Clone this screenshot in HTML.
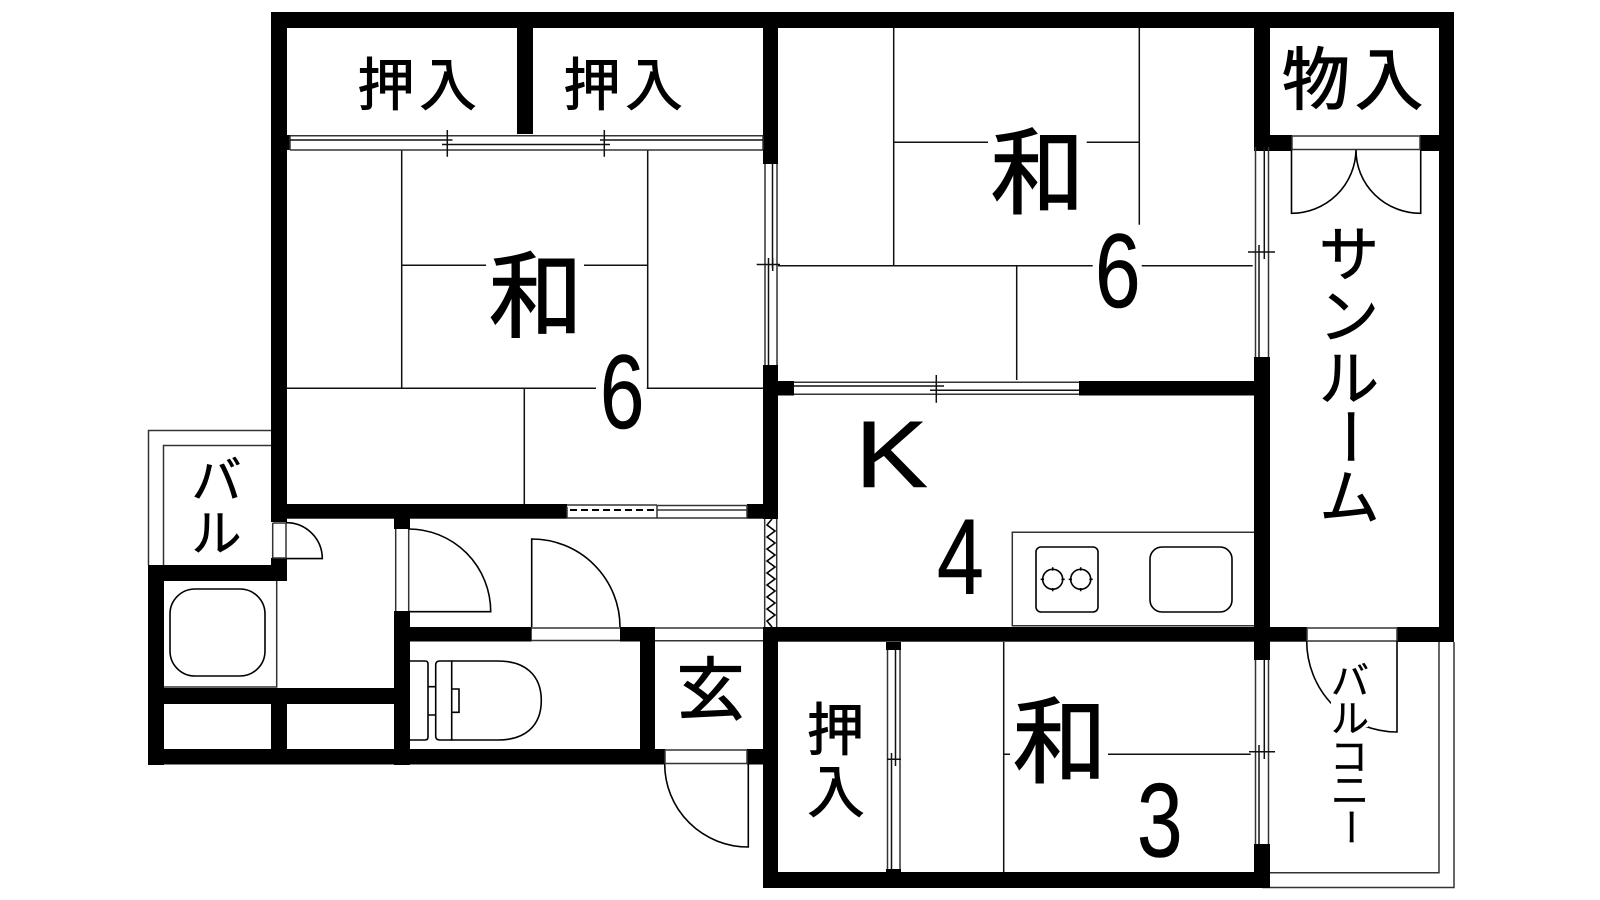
<!DOCTYPE html>
<html lang="ja"><head><meta charset="utf-8"><title>間取り図</title>
<style>
html,body{margin:0;padding:0;background:#fff;width:1600px;height:900px;overflow:hidden}
svg{display:block}
.j{font-family:"Liberation Sans","Noto Sans CJK JP",sans-serif;fill:#000;stroke:#000;text-anchor:middle}
.d{font-family:"Liberation Sans",sans-serif;fill:#000}
.l{fill:none;stroke:#111;stroke-width:1.5}
.g{fill:none;stroke:#333;stroke-width:1.5}
.a{fill:none;stroke:#000;stroke-width:1.6}
</style></head><body>
<svg width="1600" height="900" viewBox="0 0 1600 900" xmlns="http://www.w3.org/2000/svg">
<rect width="1600" height="900" fill="#fff"/>

<!-- tatami room 1 -->
<path class="l" d="M401.7 150V388.3M647.7 150V388.3M401.7 265.3H486M584 265.3H647.7M287 388.3H596M646.7 388.3H763M524.3 388.3V504"/>
<!-- tatami room 2 -->
<path class="l" d="M893.7 28V265.7M1139.3 28V224.7M893.7 142.3H988M1086.7 142.3H1139.3M778 265.7H1092.7M1141.7 265.7H1252.7M1016.7 265.7V380"/>
<!-- tatami room 3 -->
<path class="l" d="M1003.7 642V872M1003.7 754.3H1010M1108 754.3H1250.7"/>

<!-- balconies -->
<path class="g" d="M148.5 565V430.5H271M163.5 565V445.5H271"/>
<path class="g" d="M1454 642V887.5H1262M1439 642V872.7H1270"/>

<!-- walls -->
<g fill="#000">
<rect x="271" y="12" width="1183" height="16"/>
<rect x="271" y="12" width="16" height="123"/>
<rect x="271" y="150" width="16" height="372"/>
<rect x="271" y="135" width="19" height="15"/>
<rect x="517" y="28" width="16" height="106"/>
<rect x="763" y="12" width="15" height="152"/>
<rect x="763" y="365" width="15" height="154"/>
<rect x="763" y="627" width="15" height="261"/>
<rect x="1254" y="12" width="16" height="135"/>
<rect x="1254" y="135" width="38" height="16"/>
<rect x="1420" y="135" width="34" height="16"/>
<rect x="1439" y="12" width="15" height="139"/>
<rect x="1439" y="151" width="15" height="491"/>
<rect x="1254" y="357" width="16" height="303"/>
<rect x="1254" y="844" width="16" height="44"/>
<rect x="778" y="381" width="16" height="14.5"/>
<rect x="1079" y="381" width="176" height="14.5"/>
<rect x="287" y="504" width="280" height="14.7"/>
<rect x="747" y="504" width="16" height="14.7"/>
<rect x="763" y="627" width="544" height="14.7"/>
<rect x="1397" y="627" width="57" height="15"/>
<rect x="778" y="872" width="484" height="16"/>
<rect x="886" y="642" width="15" height="8"/>
<rect x="886" y="869" width="15" height="4"/>
<rect x="148" y="565" width="139" height="16"/>
<rect x="271" y="558" width="16" height="10"/>
<rect x="148" y="565" width="16" height="200"/>
<rect x="164" y="688" width="246" height="16"/>
<rect x="271" y="704" width="16" height="50"/>
<rect x="148" y="749" width="517" height="15.5"/>
<rect x="747" y="749" width="20" height="15.5"/>
<rect x="394" y="518" width="16" height="11"/>
<rect x="394" y="611" width="16" height="154"/>
<rect x="410" y="627" width="121.7" height="14.5"/>
<rect x="620" y="627" width="35" height="14.5"/>
<rect x="640" y="627" width="15" height="130"/>
</g>

<!-- top sliding window -->
<path class="g" d="M290 135.7H763M290 150H763M763 135.7V150M290 135.7V150"/>
<path class="l" d="M290 140H452M600 140H763M442 144.5H610M447.3 130V156.7M604.3 130V156.7M441.5 140H452.5M598 144.5H610"/>
<!-- window right of room 1 -->
<path class="g" d="M765 164V365M777 164V365"/>
<path class="l" d="M772.5 164V268M768.5 258V365M756.7 264.5H780M768.5 258V264.5M772.7 258V271"/>
<!-- window kitchen top -->
<path class="g" d="M794 382.3H1079M794 394.3H1079"/>
<path class="l" d="M794 386H944M930 390.3H1079M936.3 375V402.7M930 390.3H944M936 386H944"/>
<!-- right window upper -->
<path class="g" d="M1255.5 147V357M1268.5 147V357"/>
<path class="l" d="M1264.3 147V259M1259 245V357M1248 252H1275"/>
<!-- right window lower -->
<path class="g" d="M1255.5 660V844M1268.5 660V844"/>
<path class="l" d="M1264.3 660V759M1259 745V844M1249 751.7H1275"/>
<!-- closet window room 3 -->
<path class="g" d="M887.5 650V869M900 650V869"/>
<path class="l" d="M895.5 650V766M891.5 753V869M887 759.3H901"/>
<!-- dashed + sliding window -->
<path class="g" d="M567 505H657M567 518H657M567 506.7V518M657 505V518"/>
<path d="M570 510H657" stroke="#000" stroke-width="2" stroke-dasharray="7 4" fill="none"/>
<path class="g" d="M657 505.5H747M657 510H747M657 518H747M747 505V518"/>
<!-- accordion -->
<path class="g" d="M764.7 519V627M776.7 519V627"/>
<path d="M772 519L767 525L775 531L767 537L775 543L767 549L775 555L767 561L775 567L767 573L775 579L767 585L775 591L767 597L775 603L767 609L775 615L767 621L772 627" fill="none" stroke="#000" stroke-width="1.6"/>

<!-- storage double door -->
<path class="g" d="M1292 136H1420M1292 149.5H1420M1292 136V150M1420 136V150"/>
<path class="a" d="M1291.5 150V213.3A64.5 64.5 0 0 0 1356 150A64.5 63 0 0 0 1420.7 213.3V150"/>
<!-- balcony door -->
<path class="g" d="M1307 628H1397M1307 641H1397M1307 628V641M1397 628V641"/>
<path class="a" d="M1306.7 641A90.3 91 0 0 0 1397 732V641"/>
<rect x="1331" y="702" width="37" height="25" fill="#fff"/>
<!-- small door -->
<path class="g" d="M272.7 523H286M272.7 558H286M272.7 523V558M286 523V558"/>
<path class="a" d="M286 522.7A36 36 0 0 1 322.3 558.6H286"/>
<!-- door 1 -->
<path class="g" d="M395.7 529V611M408.7 529V611"/>
<path class="a" d="M408.7 529A82 82.7 0 0 1 490.7 611.7H408.7"/>
<!-- door 2 -->
<path class="g" d="M531.7 628H620M531.7 640.5H620"/>
<path class="a" d="M531.7 627V539A88.3 88 0 0 1 620 627"/>
<!-- entry top window -->
<path class="g" d="M655 628H763M655 640.7H763"/>
<!-- entry door -->
<path class="g" d="M665 750H747M665 763.5H747M665 750V764M747 750V764"/>
<path class="a" d="M664.7 764A83.5 83 0 0 0 748.3 847V764"/>

<!-- bath -->
<path class="g" d="M276.7 581V687H164"/>
<rect x="170" y="589" width="95" height="87" rx="25" ry="25" class="a"/>
<!-- toilet -->
<path class="a" d="M410 661H425Q428 661 428 664V737Q428 740 425 740H410M428 686.7H435.7M428 715H435.7"/>
<path class="a" d="M451.7 661H439.7Q435.7 661 435.7 665V736Q435.7 740 439.7 740H451.7ZM451.7 689H459V712.3H451.7"/>
<path class="a" d="M451.7 661H498C525 661 541.3 675 541.3 700.5C541.3 726 525 740 498 740H451.7"/>
<!-- kitchen -->
<path class="g" d="M1254 532.3H1012.3V625.7H1254"/>
<rect x="1036" y="547" width="62" height="65" rx="5" class="a"/>
<rect x="1150" y="547" width="82" height="65" rx="12" class="a"/>
<circle cx="1052.7" cy="579.3" r="10" class="a"/>
<circle cx="1080.7" cy="579.3" r="10" class="a"/>
<path class="a" d="M1040.7 579.3H1044M1061.4 579.3H1064.7M1052.7 567.3V570.6M1052.7 588V591.3M1068.7 579.3H1072M1089.4 579.3H1092.7M1080.7 567.3V570.6M1080.7 588V591.3"/>

<!-- labels -->
<g class="j">
<text x="536" y="329.5" font-size="94" stroke-width="1.4">和</text>
<text x="1037.8" y="206" font-size="94" stroke-width="1.4">和</text>
<text x="1060" y="775" font-size="94" stroke-width="1.4">和</text>
<text x="386" y="105" font-size="57" stroke-width="1">押</text>
<text x="448" y="105" font-size="57" stroke-width="1">入</text>
<text x="592" y="105" font-size="57" stroke-width="1">押</text>
<text x="654" y="105" font-size="57" stroke-width="1">入</text>
<text x="1316" y="104" font-size="68" stroke-width="1.2">物</text>
<text x="1389" y="104" font-size="68" stroke-width="1.2">入</text>
<text x="710.5" y="714" font-size="68" stroke-width="1.2">玄</text>
<text x="835.5" y="750" font-size="57" stroke-width="1">押</text>
<text x="836" y="812" font-size="57" stroke-width="1">入</text>
<text x="216.5" y="498" font-size="50" stroke-width=".6">バ</text>
<text x="216.5" y="551" font-size="50" stroke-width=".6">ル</text>
<text x="1349" y="276" font-size="60" stroke-width=".8">サ</text>
<text x="1349" y="338" font-size="60" stroke-width=".8">ン</text>
<text x="1349" y="400" font-size="60" stroke-width=".8">ル</text>
<text x="1349" y="436.5" font-size="60" stroke-width=".8" transform="rotate(90 1349 436.5) translate(0 21)">ー</text>
<text x="1349.5" y="519" font-size="60" stroke-width=".8">ム</text>
<text x="1350" y="694" font-size="38" stroke-width=".4">バ</text>
<text x="1350" y="732" font-size="38" stroke-width=".4">ル</text>
<text x="1349" y="770" font-size="38" stroke-width=".4">コ</text>
<text x="1350" y="804" font-size="38" stroke-width=".4">ニ</text>
<text x="1350" y="827" font-size="38" stroke-width=".4" transform="rotate(90 1350 827) translate(0 13)">ー</text>
</g>
<text class="d" font-size="95" transform="translate(855,487) scale(1.15,1)" stroke="#000" stroke-width=".6">K</text>
<text class="d" font-size="108" transform="translate(937,594) scale(.78,1)" stroke="#000" stroke-width=".6">4</text>
<text class="d" font-size="105" transform="translate(600,428) scale(.76,1)" stroke="#000" stroke-width=".6">6</text>
<text class="d" font-size="105" transform="translate(1095,307) scale(.78,1)" stroke="#000" stroke-width=".6">6</text>
<text class="d" font-size="105" transform="translate(1137,856.5) scale(.78,1)" stroke="#000" stroke-width=".6">3</text>
</svg>
</body></html>
